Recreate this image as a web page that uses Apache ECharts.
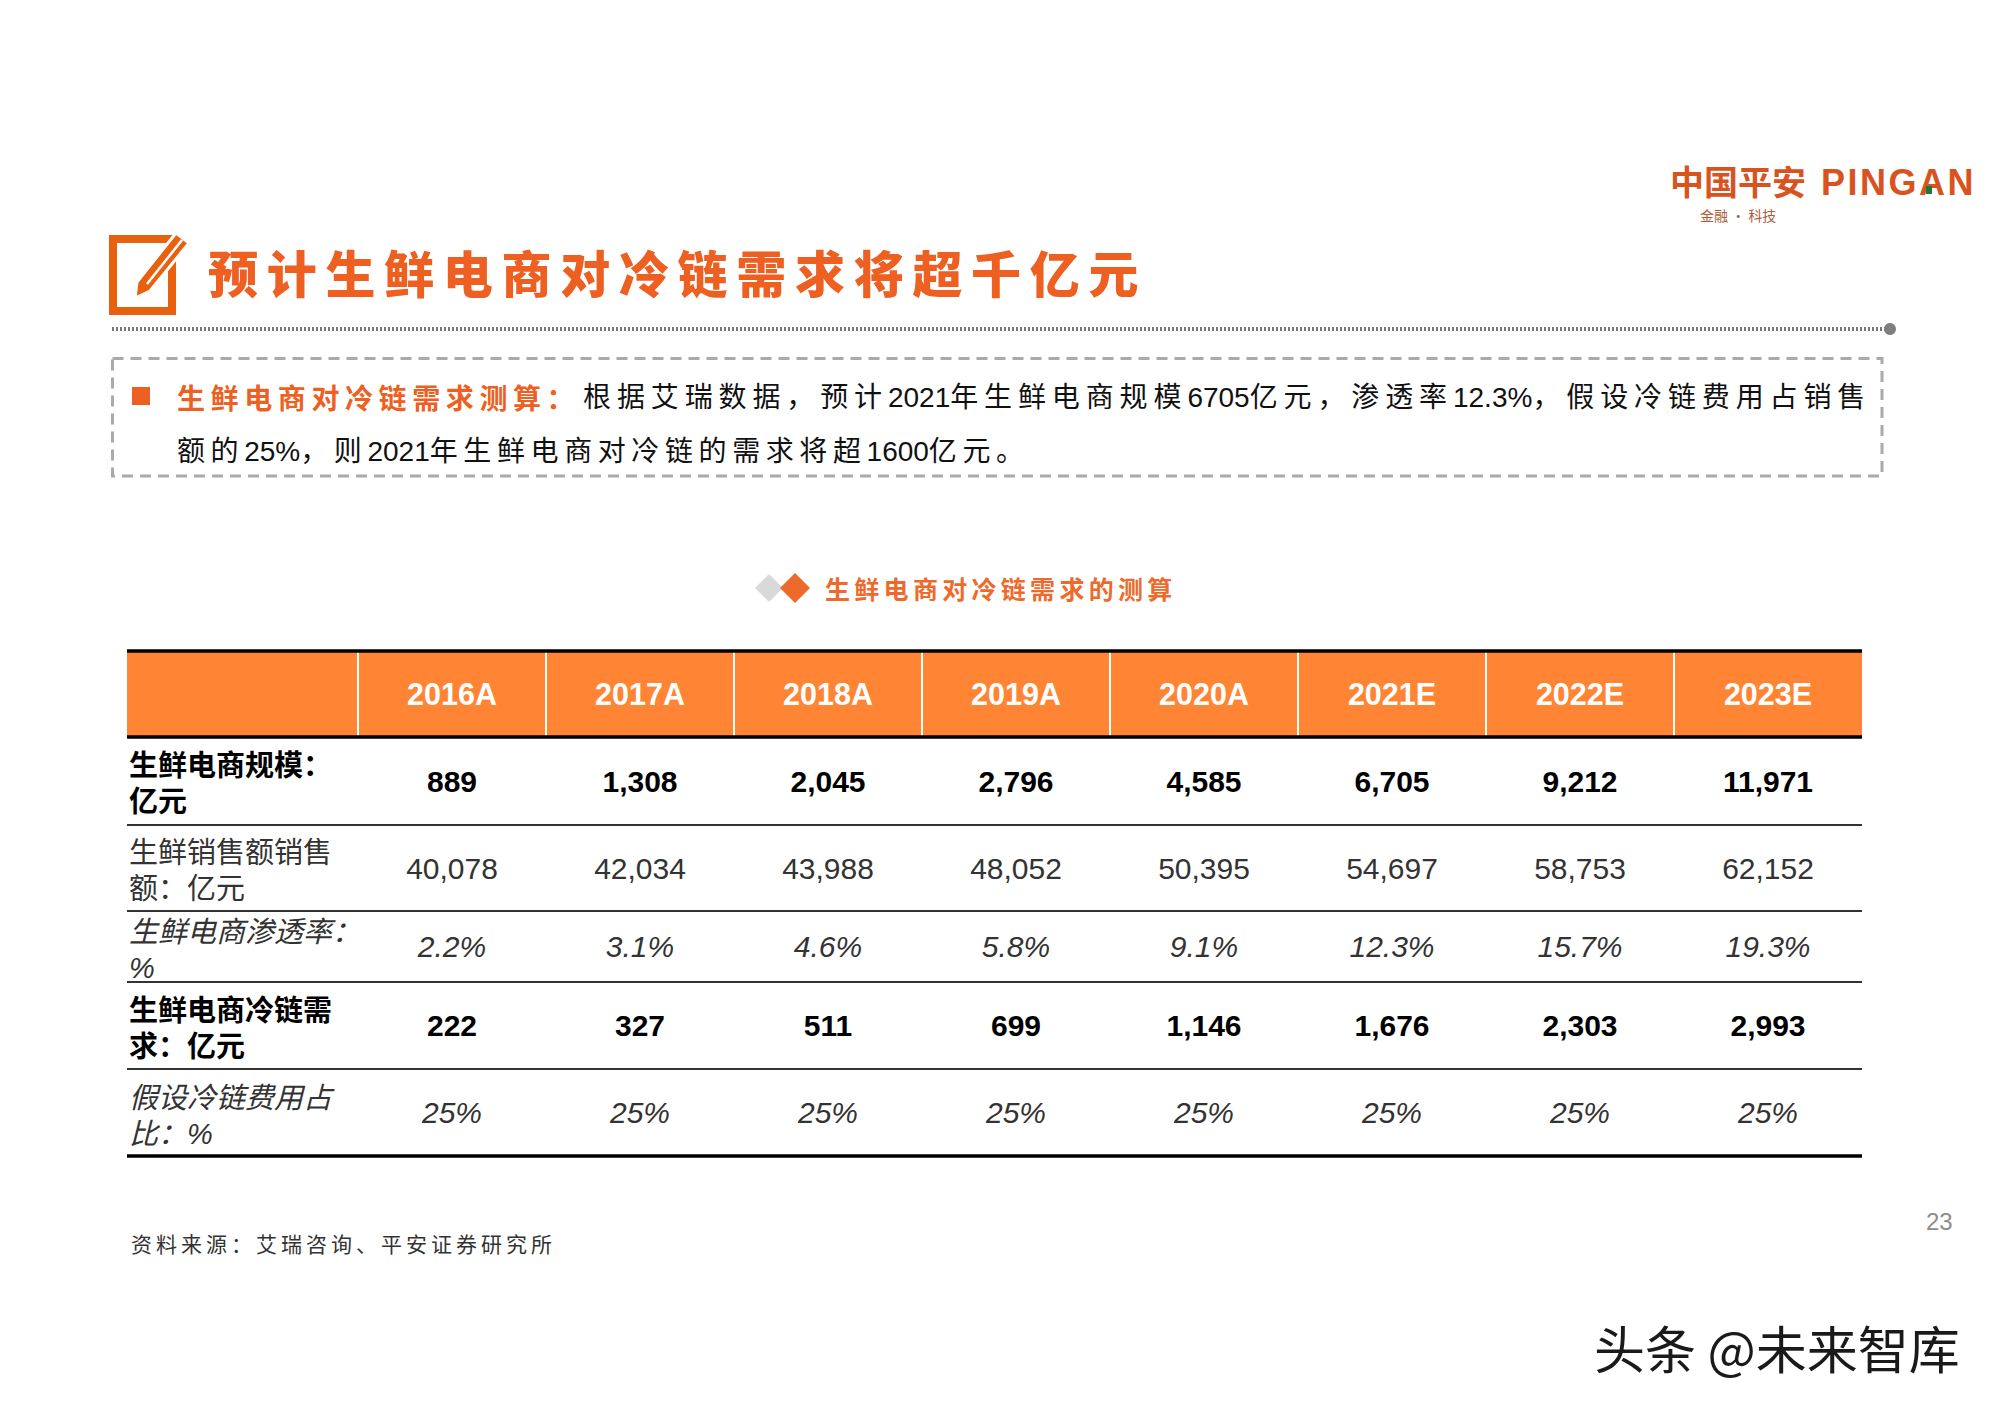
<!DOCTYPE html>
<html><head><meta charset="utf-8">
<style>html,body{margin:0;padding:0;background:#fff}#c{width:2000px;height:1414px}</style>
<script src="https://cdn.jsdelivr.net/npm/echarts@6/dist/echarts.min.js"></script>
</head><body><div id="c"></div>
<script>
// ---------- data ----------
const C = '\uFF1A', M = '\uFF0C', P = '\u3002';
const years = ['2016A','2017A','2018A','2019A','2020A','2021E','2022E','2023E'];
const rowLabels = ['生鲜电商规模'+C+'\n亿元','生鲜销售额销售\n额'+C+'亿元','生鲜电商渗透率'+C+'\n%','生鲜电商冷链需\n求'+C+'亿元','假设冷链费用占\n比'+C+'%'];
const ecommerceSize = [889,1308,2045,2796,4585,6705,9212,11971];
const freshSales = [40078,42034,43988,48052,50395,54697,58753,62152];
const penetration = [2.2,3.1,4.6,5.8,9.1,12.3,15.7,19.3];
const coldChainDemand = [222,327,511,699,1146,1676,2303,2993];
const coldChainShare = [25,25,25,25,25,25,25,25];
const titleText = '预计生鲜电商对冷链需求将超千亿元';
const introHead = '生鲜电商对冷链需求测算'+C;
const introLine1 = '根据艾瑞数据'+M+'预计2021年生鲜电商规模6705亿元'+M+'渗透率12.3%'+M+'假设冷链费用占销售';
const introLine2 = '额的25%'+M+'则2021年生鲜电商对冷链的需求将超1600亿元'+P;
const chartTitle = '生鲜电商对冷链需求的测算';
const sourceText = '资料来源'+C+'艾瑞咨询、平安证券研究所';

// ---------- layout ----------
const headerH = 86, rowH = [88,86,71,87,87], firstCol = 231;
const FONT = '"Liberation Sans","Noto Sans CJK SC",sans-serif', CJK = '"Noto Sans CJK SC",sans-serif';
const ORANGE = '#EE5F22';
const fmt = v => v.toLocaleString('en-US');
const rows = [
  {vals: ecommerceSize.map(fmt), weight:'bold', style:'normal', color:'#000'},
  {vals: freshSales.map(fmt), weight:'normal', style:'normal', color:'#333'},
  {vals: penetration.map(v=>v.toFixed(1)+'%'), weight:'normal', style:'italic', color:'#333'},
  {vals: coldChainDemand.map(fmt), weight:'bold', style:'normal', color:'#000'},
  {vals: coldChainShare.map(v=>v+'%'), weight:'normal', style:'italic', color:'#333'}
];
const edges = [0, headerH]; rowH.forEach(h=>edges.push(edges[edges.length-1]+h));
const centre = i => (edges[i+1]+edges[i+2])/2;
const cells = [], labels = [];
rows.forEach((r,ri)=>{
  labels.push([0,centre(ri),ri]);
  r.vals.forEach((_,ci)=>cells.push([ci,centre(ri),ri]));
});

const txt = (x,y,text,fill,size,extra={}) => ({type:'text',x,y,silent:true,style:Object.assign({text,fill,fontSize:size,fontFamily:CJK,textVerticalAlign:'middle'},extra)});

const graphics = [
  // icon
  {type:'rect',shape:{x:113,y:239,width:59,height:72},style:{fill:'none',stroke:'#E8610F',lineWidth:8}},
  {type:'polygon',shape:{points:[[135,298],[150,291],[189,243],[176,233],[137,282]]},style:{fill:'#E8610F',stroke:'#fff',lineWidth:3}},
  {type:'line',shape:{x1:147,y1:284,x2:182,y2:240},style:{stroke:'#fff',lineWidth:2.5}},
  txt(208,271,titleText,ORANGE,50,{fontWeight:900}),
  // logo
  txt(1670,180,'中国平安','#D9531E',34,{fontWeight:'bold'}),
  txt(1821,182,'PINGAN','#D9531E',36,{fontWeight:'bold',fontFamily:FONT}),
  {type:'rect',shape:{x:1926,y:186,width:6,height:8},style:{fill:'#1A7A3A'}},
  txt(1700,215,'金融 · 科技','#A9603A',14),
  // separators
  {type:'line',shape:{x1:112,y1:329,x2:1886,y2:329},style:{stroke:'#777',lineWidth:4,lineDash:[2,2]}},
  {type:'circle',shape:{cx:1890,cy:329,r:6},style:{fill:'#7F7F7F'}},
  {type:'rect',shape:{x:112.5,y:358.5,width:1769.5,height:117.5},style:{fill:'none',stroke:'#AAA',lineWidth:3,lineDash:[11,7]}},
  {type:'rect',shape:{x:132,y:387,width:18,height:18},style:{fill:ORANGE}},
  txt(177,397,introHead,ORANGE,28,{fontWeight:'bold'}),
  txt(583,397,introLine1,'#111',28,{fontFamily:FONT}),
  txt(177,451,introLine2,'#111',28,{fontFamily:FONT}),
  // chart title diamonds
  {type:'polygon',shape:{points:[[769,574],[783,588],[769,602],[755,588]]},style:{fill:'#D9D9D9'}},
  {type:'polygon',shape:{points:[[795,573],[810,588],[795,603],[780,588]]},style:{fill:'#EE6A2C'}},
  txt(131,1243,sourceText,'#333',21),
  txt(1926,1221,'23','#8C8C8C',24,{fontFamily:FONT}),
  txt(1594,1347,'头条 @未来智库','#1A1A1A',51)
];
const spacing = new Map([
  [titleText,8.7],[introHead,5.6],[introLine1,5.88],[introLine2,5.6],[chartTitle,4.3],[sourceText,4],['PINGAN',2.5]
]);

const chart = echarts.init(document.getElementById('c'),null,{renderer:'svg',width:2000,height:1414});
chart.setOption({
  animation:false,
  backgroundColor:'#fff',
  title:{text:chartTitle,left:825,top:575,padding:0,textStyle:{color:'#EE6A2C',fontSize:25,fontWeight:'bold',fontFamily:CJK}},
  grid:{left:358,right:138,top:651,bottom:258},
  xAxis:{type:'category',position:'top',data:years,z:10,
    axisLine:{show:false},axisTick:{show:false},splitLine:{show:false},
    axisLabel:{inside:true,margin:28,color:'#fff',fontWeight:'bold',fontSize:30.5,fontFamily:FONT}},
  yAxis:{type:'value',inverse:true,min:0,max:edges[edges.length-1],show:false},
  graphic:{elements:graphics},
  series:[
    {type:'custom',name:'header',coordinateSystem:'cartesian2d',z:1,silent:true,data:[[0,0]],
     renderItem(p,api){
       const w=api.size([1,0])[0], o=api.coord([0,0]), b=api.coord([0,headerH])[1];
       const x0=o[0]-w/2, kids=[{type:'rect',shape:{x:x0-firstCol,y:o[1],width:firstCol+w*years.length,height:b-o[1]},style:{fill:'#FF8534'}}];
       years.forEach((_,i)=>{const x=api.coord([i,0])[0]-w/2; kids.push({type:'line',shape:{x1:x,y1:o[1],x2:x,y2:b},style:{stroke:'#fff',lineWidth:2}});});
       return {type:'group',children:kids};
     }},
    {type:'custom',name:'rules',coordinateSystem:'cartesian2d',z:2,silent:true,
     data:edges.map(e=>[0,e]),
     renderItem(p,api){
       const w=api.size([1,0])[0], x=api.coord([0,0])[0]-w/2, y=api.coord([0,api.value(1)])[1];
       const i=p.dataIndex, thick=(i<2||i===edges.length-1);
       return {type:'line',shape:{x1:x-firstCol,y1:y,x2:x+w*years.length,y2:y},style:{stroke:thick?'#000':'#333',lineWidth:thick?3.5:2}};
     }},
    {type:'custom',name:'cells',coordinateSystem:'cartesian2d',z:3,silent:true,data:cells,
     renderItem(p,api){
       const c=cells[p.dataIndex], r=rows[c[2]], pt=api.coord([c[0],c[1]]);
       return {type:'text',x:pt[0],y:pt[1],style:{text:r.vals[c[0]],fill:r.color,fontSize:30,fontFamily:FONT,fontWeight:r.weight,fontStyle:r.style,textAlign:'center',textVerticalAlign:'middle'}};
     }},
    {type:'custom',name:'rowLabels',coordinateSystem:'cartesian2d',z:3,silent:true,data:labels,
     renderItem(p,api){
       const l=labels[p.dataIndex], r=rows[l[2]], w=api.size([1,0])[0], pt=api.coord([0,l[1]]);
       return {type:'text',x:pt[0]-w/2-firstCol+2,y:pt[1]+3,style:{text:rowLabels[l[2]],fill:r.color,fontSize:29,lineHeight:36,fontFamily:FONT,fontWeight:r.weight,fontStyle:r.style,textAlign:'left',textVerticalAlign:'middle'}};
     }}
  ]
});

// Per-glyph tracking of the wide-set headline and body text (SVG text nodes).
function track(){
  document.querySelectorAll('#c svg text').forEach(el=>{
    const s=el.textContent; if(!spacing.has(s)||el.dataset.tracked) return;
    const sp=spacing.get(s), hasCJK=/[^\x00-\x7f]/.test(s);
    el.dataset.tracked='1'; el.textContent='';
    (hasCJK? s.match(/[0-9.%]+|[^0-9.%]+/g):[s]).forEach(run=>{
      const t=document.createElementNS('http://www.w3.org/2000/svg','tspan');
      t.textContent=run;
      t.setAttribute('letter-spacing',(hasCJK&&/^[0-9.%]/.test(run))?0:sp);
      el.appendChild(t);
    });
  });
}
track(); chart.on('finished',track); setTimeout(track,100);
</script></body></html>
